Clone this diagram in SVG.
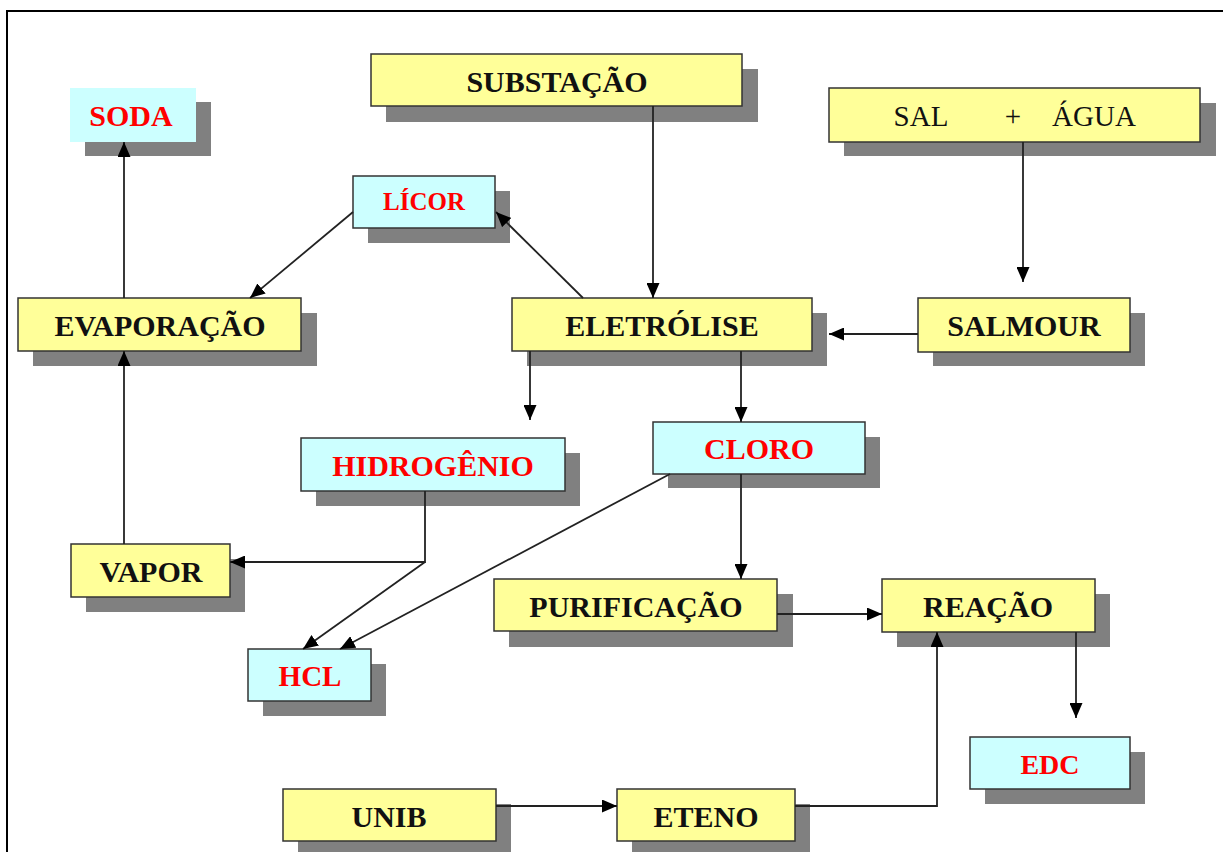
<svg xmlns="http://www.w3.org/2000/svg" width="1223" height="852" viewBox="0 0 1223 852">
<style>
.sh{fill:#808080}
.y{fill:#FFFF99;stroke:#333;stroke-width:1.5}
.c{fill:#CCFFFF;stroke:#333;stroke-width:1.5}
.cn{fill:#CCFFFF}
.tb{font-family:"Liberation Serif","Times New Roman",serif;font-weight:bold;font-size:30px;fill:#111;text-anchor:middle}
.tr{font-family:"Liberation Serif","Times New Roman",serif;font-weight:bold;font-size:30px;fill:#FF0000;text-anchor:middle}
.tn{font-family:"Liberation Serif","Times New Roman",serif;font-size:29px;fill:#111;text-anchor:middle}
.ln{fill:none;stroke:#222;stroke-width:1.8}
</style>
<defs>
<marker id="ah" markerUnits="userSpaceOnUse" markerWidth="15" markerHeight="13" refX="15" refY="6.5" orient="auto">
<path d="M0,0 L15,6.5 L0,13 z" fill="#000"/>
</marker>
</defs>
<rect x="0" y="0" width="1223" height="852" fill="#fff"/>
<path d="M7,852 L7,11 L1223,11" fill="none" stroke="#000" stroke-width="2"/>

<g id="soda">
<rect class="sh" x="85" y="102" width="126" height="54"/>
<rect class="cn" x="70" y="88" width="126" height="54"/>
<text class="tr" x="131" y="126">SODA</text>
</g>
<g id="substacao">
<rect class="sh" x="386" y="69" width="372" height="53"/>
<rect class="y" x="371" y="54" width="371" height="52"/>
<text class="tb" x="557" y="92">SUBSTAÇÃO</text>
</g>
<g id="sal-agua">
<rect class="sh" x="844" y="103" width="372" height="53"/>
<rect class="y" x="829" y="88" width="371" height="54"/>
<text class="tn" y="126"><tspan x="921">SAL</tspan><tspan x="1013">+</tspan><tspan x="1094">ÁGUA</tspan></text>
</g>
<g id="licor">
<rect class="sh" x="368" y="191" width="142" height="52"/>
<rect class="c" x="353" y="176" width="142" height="52"/>
<text class="tr" x="424" y="210" style="font-size:25px">LÍCOR</text>
</g>
<g id="evaporacao">
<rect class="sh" x="33" y="313" width="284" height="53"/>
<rect class="y" x="18" y="298" width="283" height="53"/>
<text class="tb" x="160" y="336">EVAPORAÇÃO</text>
</g>
<g id="eletrolise">
<rect class="sh" x="527" y="313" width="300" height="53"/>
<rect class="y" x="512" y="298" width="300" height="53"/>
<text class="tb" x="662" y="336">ELETRÓLISE</text>
</g>
<g id="salmour">
<rect class="sh" x="933" y="313" width="212" height="53"/>
<rect class="y" x="918" y="298" width="212" height="54"/>
<text class="tb" x="1024" y="336">SALMOUR</text>
</g>
<g id="hidrogenio">
<rect class="sh" x="316" y="453" width="264" height="53"/>
<rect class="c" x="301" y="438" width="264" height="53"/>
<text class="tr" x="433" y="476">HIDROGÊNIO</text>
</g>
<g id="cloro">
<rect class="sh" x="668" y="437" width="212" height="51"/>
<rect class="c" x="653" y="422" width="212" height="52"/>
<text class="tr" x="759" y="459">CLORO</text>
</g>
<g id="vapor">
<rect class="sh" x="86" y="559" width="159" height="53"/>
<rect class="y" x="71" y="544" width="159" height="53"/>
<text class="tb" x="151" y="582">VAPOR</text>
</g>
<g id="hcl">
<rect class="sh" x="263" y="664" width="123" height="52"/>
<rect class="c" x="248" y="649" width="123" height="52"/>
<text class="tr" x="310" y="686" style="font-size:29px">HCL</text>
</g>
<g id="purificacao">
<rect class="sh" x="509" y="594" width="284" height="53"/>
<rect class="y" x="494" y="579" width="283" height="52"/>
<text class="tb" x="636" y="617">PURIFICAÇÃO</text>
</g>
<g id="reacao">
<rect class="sh" x="897" y="594" width="213" height="53"/>
<rect class="y" x="882" y="579" width="213" height="53"/>
<text class="tb" x="988" y="617">REAÇÃO</text>
</g>
<g id="edc">
<rect class="sh" x="985" y="752" width="160" height="52"/>
<rect class="c" x="970" y="737" width="160" height="52"/>
<text class="tr" x="1050" y="774" style="font-size:28px">EDC</text>
</g>
<g id="unib">
<rect class="sh" x="298" y="804" width="213" height="52"/>
<rect class="y" x="283" y="789" width="213" height="52"/>
<text class="tb" x="389" y="827">UNIB</text>
</g>
<g id="eteno">
<rect class="sh" x="632" y="804" width="178" height="52"/>
<rect class="y" x="617" y="789" width="178" height="52"/>
<text class="tb" x="706" y="827">ETENO</text>
</g>

<g id="connectors">
<line class="ln" x1="124" y1="298" x2="124" y2="142" marker-end="url(#ah)"/>
<line class="ln" x1="353" y1="212" x2="250" y2="298" marker-end="url(#ah)"/>
<line class="ln" x1="583" y1="298" x2="496" y2="212" marker-end="url(#ah)"/>
<line class="ln" x1="653" y1="106" x2="653" y2="298" marker-end="url(#ah)"/>
<line class="ln" x1="1023" y1="142" x2="1023" y2="282" marker-end="url(#ah)"/>
<line class="ln" x1="918" y1="334" x2="829" y2="334" marker-end="url(#ah)"/>
<line class="ln" x1="530" y1="351" x2="530" y2="420" marker-end="url(#ah)"/>
<line class="ln" x1="741" y1="351" x2="741" y2="422" marker-end="url(#ah)"/>
<line class="ln" x1="124" y1="544" x2="124" y2="351" marker-end="url(#ah)"/>
<polyline class="ln" points="425,491 425,562 230,562" marker-end="url(#ah)"/>
<line class="ln" x1="425" y1="562" x2="303" y2="649" marker-end="url(#ah)"/>
<line class="ln" x1="670" y1="474" x2="340" y2="649" marker-end="url(#ah)"/>
<line class="ln" x1="741" y1="474" x2="741" y2="579" marker-end="url(#ah)"/>
<line class="ln" x1="777" y1="614" x2="882" y2="614" marker-end="url(#ah)"/>
<line class="ln" x1="1076" y1="632" x2="1076" y2="718" marker-end="url(#ah)"/>
<line class="ln" x1="496" y1="806" x2="617" y2="806" marker-end="url(#ah)"/>
<polyline class="ln" points="795,806 937,806 937,632" marker-end="url(#ah)"/>
</g>
</svg>
